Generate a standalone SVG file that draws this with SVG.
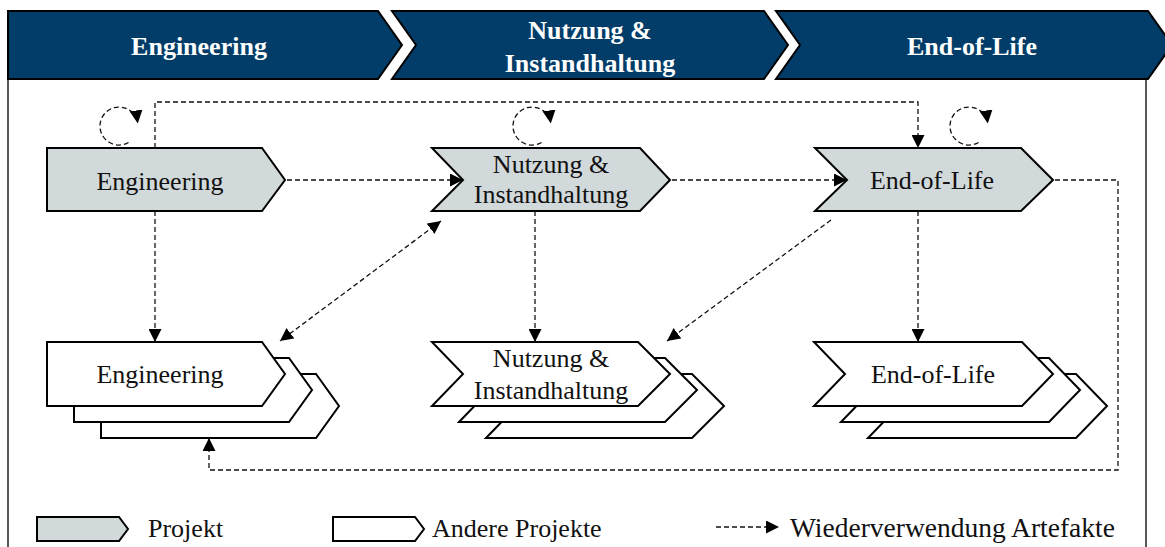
<svg xmlns="http://www.w3.org/2000/svg" width="1165" height="547" viewBox="0 0 1165 547">
  <style>
    .phase { fill: #023d69; stroke: #000; stroke-width: 2; }
    .phase-label { font-family: "Liberation Serif", "Times New Roman", serif; font-weight: bold; font-size: 26px; fill: #fff; text-anchor: middle; }
    .proj { fill: #d2d9db; stroke: #000; stroke-width: 2; stroke-linejoin: miter; }
    .other { fill: #fff; stroke: #000; stroke-width: 2; }
    .label { font-family: "Liberation Serif", "Times New Roman", serif; font-size: 26px; fill: #111; text-anchor: middle; }
    .legend { font-family: "Liberation Serif", "Times New Roman", serif; font-size: 26px; fill: #111; }
    .frame { fill: none; stroke: #222; stroke-width: 1.5; }
    .reuse { fill: none; stroke: #111; stroke-width: 1.3; stroke-dasharray: 5 3; }
  </style>
  <defs>
    <marker id="arrow" viewBox="0 0 12 12" refX="12" refY="6" markerWidth="13" markerHeight="13" markerUnits="userSpaceOnUse" orient="auto-start-reverse">
      <path d="M0,0 L12,6 L0,12 Z" fill="#000"/>
    </marker>
  </defs>

  <!-- outer frame -->
  <path class="frame" d="M8,79 V547 M1146,79 V547"/>

  <!-- lifecycle phase banner -->
  <g id="phase-engineering">
    <path class="phase" d="M8,11 H378 L402,45 L378,79 H8 Z"/>
    <text class="phase-label" x="199" y="55">Engineering</text>
  </g>
  <g id="phase-nutzung">
    <path class="phase" d="M392,11 H764 L788,45 L764,79 H392 L416,45 Z"/>
    <text class="phase-label" x="590" y="39">Nutzung &amp;</text>
    <text class="phase-label" x="590" y="72">Instandhaltung</text>
  </g>
  <g id="phase-eol">
    <path class="phase" d="M776,11 H1148 L1172,45 L1148,79 H776 L800,45 Z"/>
    <text class="phase-label" x="972" y="55">End-of-Life</text>
  </g>

  <!-- project nodes -->
  <g id="proj-engineering">
    <path class="proj" d="M47,148 H262 L285,180 L262,211 H47 Z"/>
    <text class="label" x="160" y="190">Engineering</text>
  </g>
  <g id="proj-nutzung">
    <path class="proj" d="M432,148 H640 L670,180 L640,211 H432 L463,180 Z"/>
    <text class="label" x="551" y="173">Nutzung &amp;</text>
    <text class="label" x="551" y="203">Instandhaltung</text>
  </g>
  <g id="proj-eol">
    <path class="proj" d="M815,148 H1021 L1053,180 L1021,211 H815 L847,180 Z"/>
    <text class="label" x="932" y="189">End-of-Life</text>
  </g>

  <!-- other projects (stacked) -->
  <g id="other-engineering">
    <path class="other" d="M101,374 H316 L339,406 L316,438 H101 Z"/>
    <path class="other" d="M74,358 H289 L312,390 L289,422 H74 Z"/>
    <path class="other" d="M47,342 H262 L285,374 L262,406 H47 Z"/>
    <text class="label" x="160" y="383">Engineering</text>
  </g>
  <g id="other-nutzung">
    <path class="other" d="M486,374 H692 L724,406 L692,438 H486 L517,406 Z"/>
    <path class="other" d="M459,358 H665 L697,390 L665,422 H459 L490,390 Z"/>
    <path class="other" d="M432,342 H638 L670,374 L638,406 H432 L463,374 Z"/>
    <text class="label" x="551" y="367">Nutzung &amp;</text>
    <text class="label" x="551" y="399">Instandhaltung</text>
  </g>
  <g id="other-eol">
    <path class="other" d="M868,374 H1076 L1107,406 L1076,438 H868 L899,406 Z"/>
    <path class="other" d="M841,358 H1049 L1080,390 L1049,422 H841 L872,390 Z"/>
    <path class="other" d="M814,342 H1022 L1053,374 L1022,406 H814 L845,374 Z"/>
    <text class="label" x="933" y="383">End-of-Life</text>
  </g>

  <!-- artefact reuse connectors -->
  <g id="connectors">
    <!-- iteration loops -->
    <path class="reuse" d="M128.5,142.5 A19,19 0 1 1 137.8,123.4" marker-end="url(#arrow)"/>
    <path class="reuse" d="M541.5,142.5 A19,19 0 1 1 550.8,123.4" marker-end="url(#arrow)"/>
    <path class="reuse" d="M978.5,142.5 A19,19 0 1 1 987.8,123.4" marker-end="url(#arrow)"/>
    <!-- along the project -->
    <path class="reuse" d="M287,180 H463" marker-end="url(#arrow)"/>
    <path class="reuse" d="M672,180 H847" marker-end="url(#arrow)"/>
    <path class="reuse" d="M155,148 V102 H918 V148" marker-end="url(#arrow)"/>
    <!-- to other projects -->
    <path class="reuse" d="M155,211 V342" marker-end="url(#arrow)"/>
    <path class="reuse" d="M535,211 V342" marker-end="url(#arrow)"/>
    <path class="reuse" d="M918,211 V342" marker-end="url(#arrow)"/>
    <path class="reuse" d="M441,221 L280,341" marker-start="url(#arrow)" marker-end="url(#arrow)"/>
    <path class="reuse" d="M831,220 L667,341" marker-end="url(#arrow)"/>
    <path class="reuse" d="M1055,180 H1118 V470 H209 V438" marker-end="url(#arrow)"/>
  </g>

  <!-- legend -->
  <g id="legend">
    <path class="proj" d="M37,517 H119 L128,529 L119,541 H37 Z"/>
    <text class="legend" x="148" y="537">Projekt</text>
    <path class="other" d="M333,517 H415 L424,529 L415,541 H333 Z"/>
    <text class="legend" x="432" y="537">Andere Projekte</text>
    <path class="reuse" d="M716,527 H779" stroke-dasharray="3 2" marker-end="url(#arrow)"/>
    <text class="legend" x="790" y="537" style="font-size:27.5px">Wiederverwendung Artefakte</text>
  </g>
</svg>
